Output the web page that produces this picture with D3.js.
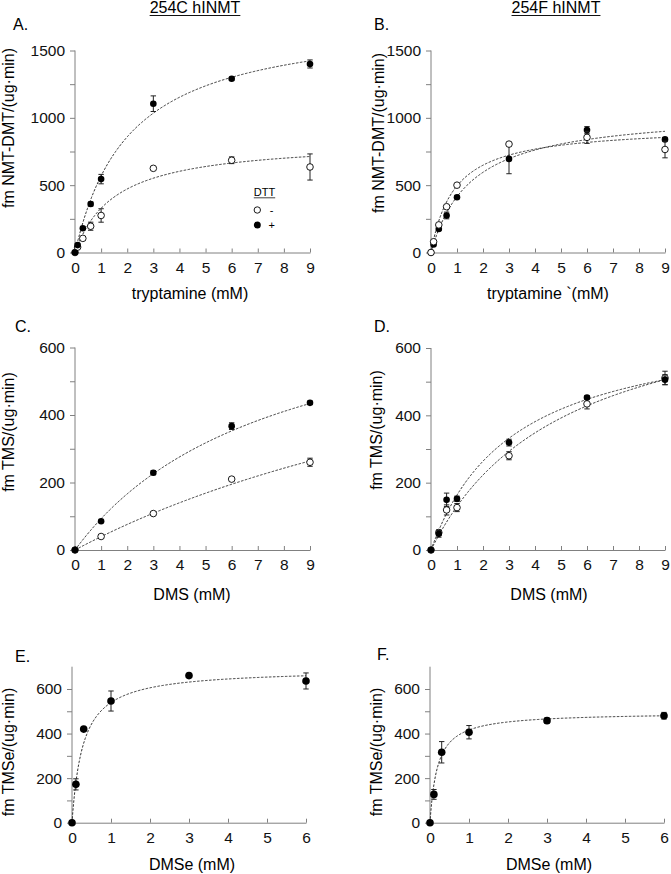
<!DOCTYPE html>
<html>
<head>
<meta charset="utf-8">
<script src="https://cdn.jsdelivr.net/npm/d3@7"></script>
<style>
  body { margin: 0; background: #fff; }
  svg { font-family: "Liberation Sans", Arial, sans-serif; }
  .axis path, .axis line { stroke: #808080; }
  .axis text { fill: #111; font-size: 15.5px; }
</style>
</head>
<body>
<script>
// tryptamine, 254C (panel A)
var trpConc = [0, 0.1, 0.3, 0.6, 1, 3, 6, 9];
var aPlus = [0, 55, 180, 360, 545, 1105, 1290, 1400];
var aPlusErr = [0, 10, 10, 15, 35, 58, 10, 30];
var aMinus = [0, 40, 105, 195, 275, 625, 685, 635];
var aMinusErr = [0, 5, 10, 30, 50, 10, 25, 97];

// tryptamine, 254F (panel B)
var bPlus = [0, 60, 175, 275, 410, 695, 910, 840];
var bPlusErr = [0, 5, 10, 25, 10, 110, 25, 10];
var bMinus = [0, 80, 205, 340, 500, 805, 855, 765];
var bMinusErr = [0, 5, 5, 10, 10, 10, 45, 62];

// DMS (panels C, D)
var dmsConcC = [0, 1, 3, 6, 9];
var cPlus = [0, 85, 229, 367, 436];
var cPlusErr = [0, 3, 6, 10, 5];
var cMinus = [0, 40, 108, 210, 260];
var cMinusErr = [0, 3, 3, 5, 12];

var dmsConcD = [0, 0.3, 0.6, 1, 3, 6, 9];
var dPlus = [0, 48, 149, 152, 319, 453, 506];
var dPlusErr = [0, 10, 20, 8, 10, 5, 15];
var dMinus = [0, 52, 119, 126, 280, 434, 511];
var dMinusErr = [0, 8, 15, 12, 12, 15, 20];

// DMSe (panels E, F)
var dmseConc = [0, 0.1, 0.3, 1, 3, 6];
var ePlus = [0, 172, 420, 546, 660, 636];
var ePlusErr = [0, 25, 5, 45, 5, 36];
var fPlus = [0, 127, 316, 406, 458, 480];
var fPlusErr = [0, 22, 48, 30, 12, 15];

// Michaelis-Menten fit parameters [Vmax, Km]
var fitAPlus = [1752, 2.08], fitAMinus = [835, 1.54];
var fitBPlus = [1054, 1.54], fitBMinus = [940, 0.9];
var fitCPlus = [804, 7.67], fitCMinus = [909, 22];
var fitDPlus = [686, 3.2], fitDMinus = [795, 5.14];
var fitE = [690, 0.28], fitF = [495, 0.19];

var W = 671, H = 874;
var svg = d3.select("body").append("svg")
    .attr("width", W)
    .attr("height", H);

function drawPanel(p) {
    var x = d3.scaleLinear().domain([0, p.xMax]).range(p.xr);
    var y = d3.scaleLinear().domain([0, p.yMax]).range(p.yr);

    // axes
    svg.append("g")
        .attr("class", "axis")
        .attr("transform", "translate(0," + p.yr[0] + ")")
        .call(d3.axisBottom(x).tickValues(p.xTicks).tickFormat(d3.format("d"))
            .tickSizeInner(-4).tickSizeOuter(0).tickPadding(9));

    var yax = svg.append("g")
        .attr("class", "axis")
        .attr("transform", "translate(" + p.xr[0] + ",0)")
        .call(d3.axisLeft(y).tickValues(p.yTicks)
            .tickFormat(function (d) { return p.yLabels.indexOf(d) >= 0 ? d : ""; })
            .tickSize(5).tickSizeOuter(0).tickPadding(5));
    yax.select(".domain").attr("d", "M0," + p.yr[0] + "V" + p.yr[1]);

    // fitted curves
    var line = d3.line()
        .x(function (d) { return x(d[0]); })
        .y(function (d) { return y(d[1]); });
    p.fits.forEach(function (f) {
        var pts = d3.range(0, p.xMax + 0.001, p.xMax / 300).map(function (c) {
            return [c, f[0] * c / (f[1] + c)];
        });
        svg.append("path")
            .attr("d", line(pts))
            .attr("fill", "none")
            .attr("stroke", "#333")
            .attr("stroke-width", 1)
            .attr("stroke-dasharray", "2.5,1.5");
    });

    // series: error bars then markers
    p.series.forEach(function (s) {
        var g = svg.append("g");
        p.conc.forEach(function (c, i) {
            var e = s.err[i];
            if (e > 0) {
                var cx = x(c);
                g.append("path")
                    .attr("d", "M" + cx + "," + y(s.vals[i] - e) + "V" + y(s.vals[i] + e) +
                        "M" + (cx - 2.7) + "," + y(s.vals[i] - e) + "h5.4" +
                        "M" + (cx - 2.7) + "," + y(s.vals[i] + e) + "h5.4")
                    .attr("stroke", "#222")
                    .attr("stroke-width", 1)
                    .attr("fill", "none");
            }
        });
        g.selectAll("circle")
            .data(s.vals)
            .enter().append("circle")
            .attr("cx", function (d, i) { return x(p.conc[i]); })
            .attr("cy", function (d) { return y(d); })
            .attr("r", p.r)
            .attr("fill", s.open ? "#fff" : "#000")
            .attr("stroke", "#000")
            .attr("stroke-width", s.open ? 0.9 : 0);
    });

    // labels
    svg.append("text")
        .attr("x", p.letter[0]).attr("y", p.letter[1])
        .attr("font-size", 16)
        .text(p.letterText);

    svg.append("text")
        .attr("x", p.xLabel[0]).attr("y", p.xLabel[1])
        .attr("text-anchor", "middle")
        .attr("font-size", 16)
        .text(p.xLabelText);

    svg.append("text")
        .attr("transform", "translate(" + p.yLabel[0] + "," + p.yLabel[1] + ") rotate(-90)")
        .attr("text-anchor", "middle")
        .attr("dy", "0.35em")
        .attr("font-size", 16)
        .text(p.yLabelText);
}

// column titles
[["254C hINMT", 195], ["254F hINMT", 556]].forEach(function (t) {
    var txt = svg.append("text")
        .attr("x", t[1]).attr("y", 13)
        .attr("text-anchor", "middle")
        .attr("font-size", 16)
        .text(t[0]);
    var w = txt.node().getComputedTextLength();
    svg.append("line")
        .attr("x1", t[1] - w / 2).attr("x2", t[1] + w / 2)
        .attr("y1", 15.5).attr("y2", 15.5)
        .attr("stroke", "#111").attr("stroke-width", 1);
});

var tryTicks = d3.range(0, 10);

drawPanel({
    xr: [75, 310], yr: [252.5, 50.5], xMax: 9, yMax: 1500,
    xTicks: tryTicks, yTicks: d3.range(0, 1501, 250), yLabels: [0, 500, 1000, 1500],
    conc: trpConc, r: 3.3,
    series: [{ vals: aMinus, err: aMinusErr, open: true }, { vals: aPlus, err: aPlusErr, open: false }],
    fits: [fitAPlus, fitAMinus],
    letter: [13, 30], letterText: "A.",
    xLabel: [190, 299], xLabelText: "tryptamine (mM)",
    yLabel: [8.5, 128], yLabelText: "fm NMT-DMT/(ug·min)"
});

drawPanel({
    xr: [431, 665], yr: [252.5, 50.5], xMax: 9, yMax: 1500,
    xTicks: tryTicks, yTicks: d3.range(0, 1501, 250), yLabels: [0, 500, 1000, 1500],
    conc: trpConc, r: 3.3,
    series: [{ vals: bPlus, err: bPlusErr, open: false }, { vals: bMinus, err: bMinusErr, open: true }],
    fits: [fitBPlus, fitBMinus],
    letter: [374, 30], letterText: "B.",
    xLabel: [548, 299], xLabelText: "tryptamine `(mM)",
    yLabel: [378, 133], yLabelText: "fm NMT-DMT/(ug·min)"
});

drawPanel({
    xr: [75, 310], yr: [550, 347.5], xMax: 9, yMax: 600,
    xTicks: tryTicks, yTicks: d3.range(0, 601, 100), yLabels: [0, 200, 400, 600],
    conc: dmsConcC, r: 3.3,
    series: [{ vals: cMinus, err: cMinusErr, open: true }, { vals: cPlus, err: cPlusErr, open: false }],
    fits: [fitCPlus, fitCMinus],
    letter: [15, 332], letterText: "C.",
    xLabel: [192, 600], xLabelText: "DMS (mM)",
    yLabel: [8.5, 432], yLabelText: "fm TMS/(ug·min)"
});

drawPanel({
    xr: [431, 665], yr: [550, 348], xMax: 9, yMax: 600,
    xTicks: tryTicks, yTicks: d3.range(0, 601, 100), yLabels: [0, 200, 400, 600],
    conc: dmsConcD, r: 3.3,
    series: [{ vals: dMinus, err: dMinusErr, open: true }, { vals: dPlus, err: dPlusErr, open: false }],
    fits: [fitDPlus, fitDMinus],
    letter: [374, 332], letterText: "D.",
    xLabel: [549, 600], xLabelText: "DMS (mM)",
    yLabel: [376.5, 430], yLabelText: "fm TMS/(ug·min)"
});

drawPanel({
    xr: [72, 306], yr: [822.7, 666.7], xMax: 6, yMax: 700,
    xTicks: d3.range(0, 7), yTicks: d3.range(0, 601, 100), yLabels: [0, 200, 400, 600],
    conc: dmseConc, r: 3.8,
    series: [{ vals: ePlus, err: ePlusErr, open: false }],
    fits: [fitE],
    letter: [15, 662], letterText: "E.",
    xLabel: [192, 870], xLabelText: "DMSe (mM)",
    yLabel: [8.5, 752], yLabelText: "fm TMSe/(ug·min)"
});

drawPanel({
    xr: [430, 664], yr: [822.7, 666.7], xMax: 6, yMax: 700,
    xTicks: d3.range(0, 7), yTicks: d3.range(0, 601, 100), yLabels: [0, 200, 400, 600],
    conc: dmseConc, r: 3.8,
    series: [{ vals: fPlus, err: fPlusErr, open: false }],
    fits: [fitF],
    letter: [377, 660], letterText: "F.",
    xLabel: [549, 870], xLabelText: "DMSe (mM)",
    yLabel: [376.5, 752], yLabelText: "fm TMSe/(ug·min)"
});

// DTT legend in panel A
var leg = svg.append("g").attr("font-size", 11);
var dttText = leg.append("text").attr("x", 264.5).attr("y", 196)
    .attr("text-anchor", "middle").text("DTT");
var dw = dttText.node().getComputedTextLength();
leg.append("line")
    .attr("x1", 264.5 - dw / 2).attr("x2", 264.5 + dw / 2)
    .attr("y1", 197.8).attr("y2", 197.8)
    .attr("stroke", "#111").attr("stroke-width", 0.8);
leg.append("circle").attr("cx", 257.3).attr("cy", 210).attr("r", 3.2)
    .attr("fill", "#fff").attr("stroke", "#000").attr("stroke-width", 0.9);
leg.append("text").attr("x", 271.7).attr("y", 210).attr("dy", "0.35em")
    .attr("text-anchor", "middle").text("-");
leg.append("circle").attr("cx", 257.3).attr("cy", 225).attr("r", 3.5)
    .attr("fill", "#000");
leg.append("text").attr("x", 271.7).attr("y", 225).attr("dy", "0.35em")
    .attr("text-anchor", "middle").text("+");
</script>
</body>
</html>
